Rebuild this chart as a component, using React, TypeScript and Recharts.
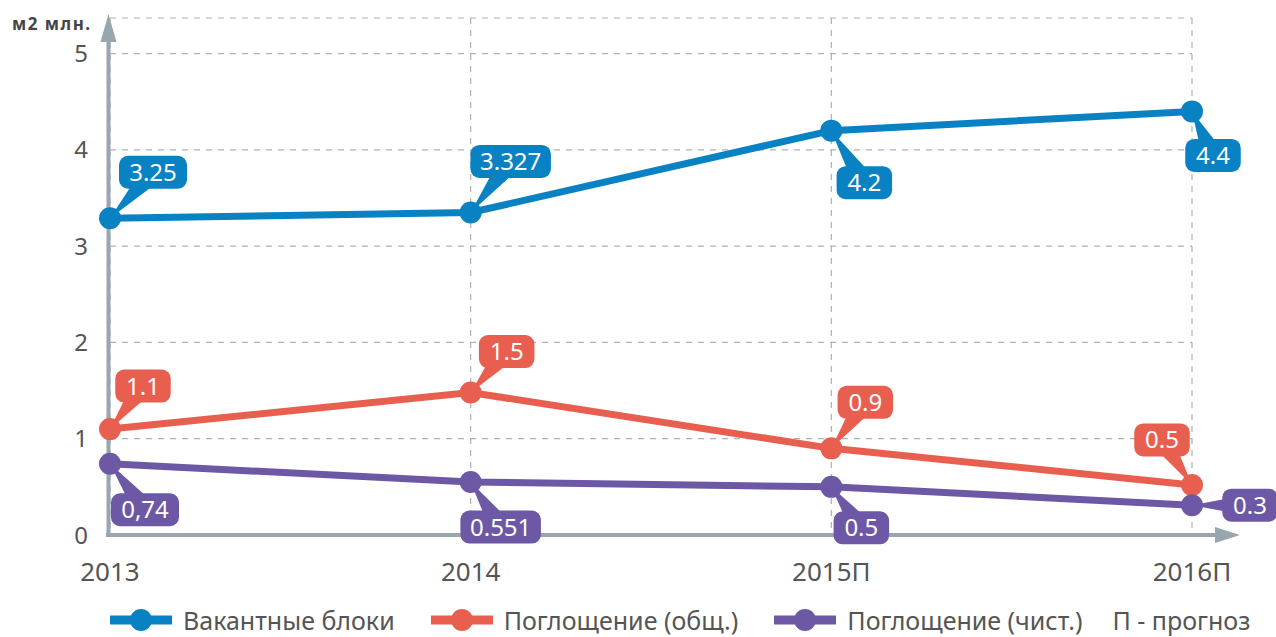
import React from "react"
import {
  CartesianGrid,
  LabelList,
  Legend,
  Line,
  LineChart,
  ReferenceLine,
  XAxis,
  YAxis,
} from "recharts"

const years = ["2013", "2014", "2015П", "2016П"]
const vacant = [3.29, 3.35, 4.2, 4.4]
const grossAbsorption = [1.1, 1.48, 0.9, 0.52]
const netAbsorption = [0.74, 0.55, 0.5, 0.31]

const vacantLabels = ["3.25", "3.327", "4.2", "4.4"]
const grossLabels = ["1.1", "1.5", "0.9", "0.5"]
const netLabels = ["0,74", "0.551", "0.5", "0.3"]

const yTicks = [0, 1, 2, 3, 4, 5]

const data = years.map((year, i) => ({
  year,
  vacant: vacant[i],
  gross: grossAbsorption[i],
  net: netAbsorption[i],
}))

const BLUE = "#0882c2"
const RED = "#e85f50"
const PURPLE = "#6d58a6"
const AXIS = "#98a7ae"
const TEXT = "#555555"
const FONT = "'Noto Sans', sans-serif"

// callout offsets (box centre relative to the point)
const vacantOffsets = [[43, -46], [40, -51], [33, 52], [21, 44]]
const grossOffsets = [[33, -43], [36, -41], [34, -46], [-30, -45]]
const netOffsets = [[35, 46], [30, 45], [30, 41], [58, 0]]

function makeCallout(texts: string[], offsets: number[][], color: string) {
  return (props: any) => {
    const { x, y, index } = props
    if (x == null || y == null) return null
    const [dx, dy] = offsets[index]
    const text = texts[index]
    const w = text.length * 12.5 + 18
    const h = 33
    const cx = x + dx
    const cy = y + dy
    const len = Math.hypot(dx, dy) || 1
    const px = (-dy / len) * 11
    const py = (dx / len) * 11
    return (
      <g>
        <polygon
          points={`${x},${y} ${cx + px},${cy + py} ${cx - px},${cy - py}`}
          fill={color}
        />
        <rect x={cx - w / 2} y={cy - h / 2} width={w} height={h} rx={9} fill={color} />
        <text
          x={cx}
          y={cy + 8.5}
          textAnchor="middle"
          fill="#fff"
          fontSize={24}
          fontFamily={FONT}
        >
          {text}
        </text>
      </g>
    )
  }
}

const XTick = (props: any) => {
  const { x, y, payload } = props
  return (
    <text x={x} y={y + 38} textAnchor="middle" fill={TEXT} fontSize={26} fontFamily={FONT}>
      {payload.value}
    </text>
  )
}

const YTick = (props: any) => {
  const { x, y, payload } = props
  return (
    <text x={x - 14} y={y + 8.5} textAnchor="end" fill={TEXT} fontSize={24} fontFamily={FONT}>
      {payload.value}
    </text>
  )
}

const XAxisShape = (props: any) => {
  const { x1, y1, x2 } = props
  const end = x2 + 25
  return (
    <g>
      <line x1={x1 - 4} y1={y1} x2={end} y2={y1} stroke={AXIS} strokeWidth={4} />
      <polygon points={`${end - 2},${y1 - 8} ${end + 23},${y1} ${end - 2},${y1 + 8}`} fill={AXIS} />
    </g>
  )
}

const YAxisShape = (props: any) => {
  const { x1, y1, y2 } = props
  const top = Math.min(y1, y2)
  const bottom = Math.max(y1, y2)
  const xx = x1 - 1.5
  return (
    <g>
      <line x1={xx} y1={bottom + 2} x2={xx} y2={top + 22} stroke={AXIS} strokeWidth={4} />
      <polygon points={`${xx - 8},${top + 24} ${xx},${top - 4} ${xx + 8},${top + 24}`} fill={AXIS} />
    </g>
  )
}

function LegendIcon({ color }: { color: string }) {
  return (
    <svg width={62} height={24} style={{ display: "block", flexShrink: 0 }}>
      <line x1={0} y1={12} x2={62} y2={12} stroke={color} strokeWidth={9} />
      <circle cx={31} cy={12} r={11} fill={color} />
    </svg>
  )
}

const legendItems = [
  { name: "Вакантные блоки", color: BLUE },
  { name: "Поглощение (общ.)", color: RED },
  { name: "Поглощение (чист.)", color: PURPLE },
]

const renderLegend = () => (
  <div
    style={{
      display: "flex",
      alignItems: "center",
      width: 1276,
      height: 30,
      paddingLeft: 110,
      boxSizing: "border-box",
      fontFamily: FONT,
      fontSize: 25,
      lineHeight: "26px",
      color: TEXT,
      whiteSpace: "nowrap",
    }}
  >
    {legendItems.map((it) => (
      <div
        key={it.name}
        style={{ display: "flex", alignItems: "center", marginRight: 36, flexShrink: 0 }}
      >
        <LegendIcon color={it.color} />
        <span style={{ marginLeft: 11 }}>{it.name}</span>
      </div>
    ))}
    <span style={{ marginLeft: -6, flexShrink: 0 }}>П - прогноз</span>
  </div>
)

export default function App() {
  return (
    <div style={{ position: "absolute", left: 0, top: 0, width: 1276, height: 637, background: "#fff" }}>
      <div
        style={{
          position: "absolute",
          left: 12,
          top: 12,
          fontFamily: FONT,
          fontWeight: 700,
          fontSize: 17,
          letterSpacing: 1.5,
          color: "#444",
        }}
      >
        м2 млн.
      </div>
      <LineChart
        width={1276}
        height={637}
        data={data}
        margin={{ top: 18, right: 84, bottom: 32, left: 0 }}
      >
        <CartesianGrid stroke="#b0b0b0" strokeDasharray="6 6" strokeWidth={1.2} />
        <XAxis
          dataKey="year"
          axisLine={false}
          tickLine={false}
          height={40}
          tick={<XTick />}
          interval={0}
        />
        <YAxis
          type="number"
          domain={[0, 5.37]}
          ticks={yTicks}
          axisLine={false}
          tickLine={false}
          width={110}
          tick={<YTick />}
        />
        <ReferenceLine y={0} ifOverflow="visible" shape={<XAxisShape />} />
        <ReferenceLine x="2013" ifOverflow="visible" shape={<YAxisShape />} />
        <Legend
          verticalAlign="bottom"
          content={renderLegend}
          wrapperStyle={{ left: 0, bottom: 2, width: 1276, height: 30 }}
        />
        <Line
          dataKey="vacant"
          stroke={BLUE}
          strokeWidth={7}
          dot={{ r: 11, fill: BLUE, stroke: BLUE, strokeWidth: 0 }}
          isAnimationActive={false}
        >
          <LabelList dataKey="vacant" content={makeCallout(vacantLabels, vacantOffsets, BLUE)} />
        </Line>
        <Line
          dataKey="gross"
          stroke={RED}
          strokeWidth={7}
          dot={{ r: 11, fill: RED, stroke: RED, strokeWidth: 0 }}
          isAnimationActive={false}
        >
          <LabelList dataKey="gross" content={makeCallout(grossLabels, grossOffsets, RED)} />
        </Line>
        <Line
          dataKey="net"
          stroke={PURPLE}
          strokeWidth={7}
          dot={{ r: 11, fill: PURPLE, stroke: PURPLE, strokeWidth: 0 }}
          isAnimationActive={false}
        >
          <LabelList dataKey="net" content={makeCallout(netLabels, netOffsets, PURPLE)} />
        </Line>
      </LineChart>
    </div>
  )
}
